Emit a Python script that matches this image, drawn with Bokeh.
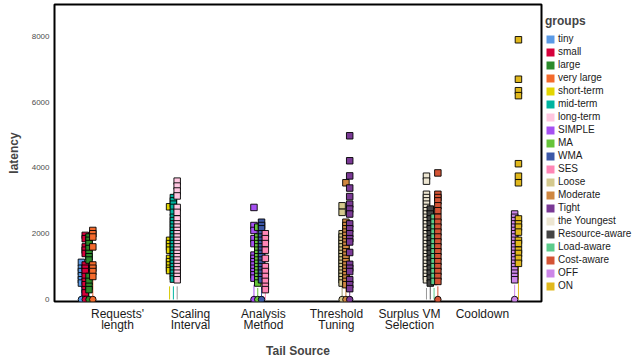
from bokeh.plotting import figure
from bokeh.models import Range1d, FixedTicker, Legend, LegendItem
from bokeh.embed import file_html
from bokeh.resources import INLINE

categories = ["Requests'\nlength", "Scaling\nInterval", "Analysis\nMethod",
              "Threshold\nTuning", "Surplus VM\nSelection", "Cooldown"]

groups = ["tiny", "small", "large", "very large", "short-term", "mid-term", "long-term",
          "SIMPLE", "MA", "WMA", "SES", "Loose", "Moderate", "Tight", "the Youngest",
          "Resource-aware", "Load-aware", "Cost-aware", "OFF", "ON"]
group_category = [0, 0, 0, 0, 1, 1, 1, 2, 2, 2, 2, 3, 3, 3, 4, 4, 4, 4, 5, 5]
colors = ["#5A9AE6", "#D6003B", "#2B8A2B", "#F46A2C", "#E3D500", "#00B4A0", "#FFC6E0",
          "#A650F2", "#66C43A", "#3C58A8", "#FF86B6", "#D4C98E", "#CF8740", "#7A3995",
          "#EDE6D2", "#444444", "#5BCB8B", "#D45435", "#CC86E8", "#E1B81C"]
whisker_colors = ["#5A9AE6", "#D6003B", "#2B8A2B", "#F46A2C", "#D6C800", "#00B4A0", "#999999",
                  "#A650F2", "#66C43A", "#3C58A8", "#FF86B6", "#A09A70", "#CF8740", "#7A3995",
                  "#999999", "#555555", "#5BCB8B", "#D45435", "#CC86E8", "#E1B81C"]
whisker_top = [450, 180, 280, 650, 400, 400, 400, 450, 350, 400, 260, 400, 350, 300,
               350, 700, 350, 400, 450, 1000]
zero_point = [1, 1, 1, 1, 0, 0, 0, 1, 1, 1, 0, 1, 1, 1, 0, 0, 0, 1, 1, 0]

tiny = [1130, 950, 850, 720, 600, 500]
small = [1950, 1850, 1600, 1500, 1400, 1050, 950, 850, 700, 550, 450, 300, 200]
large = [1900, 1800, 1700, 1550, 1400, 1300, 1200, 700, 550, 400, 300]
very_large = [2100, 2000, 1900, 1600, 1050, 950, 850, 700]
short_term = [2820, 1800, 1700, 1600, 1500, 1250, 1150, 1050, 950, 880]
mid_term = [3100, 3000, 2900, 2800, 2650, 2500, 2400, 2300, 2200, 2100, 2000, 1900, 1800,
            1700, 1600, 1500, 1400, 1300, 1200, 1100, 1000, 900, 800, 700, 620]
long_term = [3600, 3450, 3300, 3150, 2800, 2650, 2450, 2300, 2200, 2100, 2000, 1900, 1800,
             1700, 1600, 1500, 1400, 1300, 1200, 1100, 1000, 900, 800, 700, 600]
simple = [2800, 2250, 2100, 1850, 1700, 1350, 1250, 1150, 1050, 950, 850, 750, 650]
ma = [2200, 1900, 1800, 1700, 1600, 1500, 1400, 1300, 1200, 1100, 1000, 900, 800, 700,
      600, 500]
wma = [2350, 2250, 2150, 2000, 1900, 1800, 1700, 1600, 1500, 1400, 1300, 1200, 1100, 1000,
       900, 800, 700, 600]
ses = [2000, 1850, 1700, 1500, 1250, 1000, 850, 700, 550, 400, 300]
loose = [2850, 2650, 2000, 1900, 1800, 1700, 1600, 1500, 1400, 1300, 1200, 1100, 1000, 900,
         800, 700, 600, 500]
moderate = [3550, 2350, 2250, 2150, 2050, 1950, 1850, 1750, 1650, 1550, 1450, 1350, 1250,
            1150, 1050, 950, 850, 750, 650, 550, 450]
tight = [4980, 4220, 3760, 3390, 3130, 2900, 2750, 2600, 2300, 2150, 2000, 1850, 1750, 1430,
         1070, 950, 850, 600, 450, 330]
youngest = [3750, 3600, 3200, 3100, 3000, 2900, 2800, 2700, 2600, 2500, 2400, 2300, 2200,
            2100, 2000, 1900, 1800, 1700, 1600, 1500, 1400, 1300, 1200, 1100, 1000, 900,
            800, 700, 600]
resource_aware = [2750, 2600, 2450, 2300, 2150, 2000, 1850, 1700, 1550, 1400, 1250, 1100,
                  950, 800, 650, 500]
load_aware = [2500, 2350, 2200, 2050, 1900, 1750, 1600, 1450, 1300, 1150, 1000, 850, 700, 550]
cost_aware = [3850, 3200, 3100, 3000, 2850, 2700, 2500, 2350, 2200, 2050, 1900, 1750, 1600,
              1450, 1300, 1150, 1000, 850, 700, 550]
off = [2600, 2500, 2400, 2300, 2200, 2100, 2000, 1900, 1800, 1700, 1600, 1500, 1400, 1300,
       1200, 1100, 1000, 900, 800, 700, 600]
on = [7900, 6700, 6350, 6200, 4130, 3750, 3550, 2450, 2300, 2200, 2050, 1800, 1700, 1500,
      1400, 1250, 1100]

group_values = [tiny, small, large, very_large, short_term, mid_term, long_term, simple, ma,
                wma, ses, loose, moderate, tight, youngest, resource_aware, load_aware,
                cost_aware, off, on]

yticks = [0, 2000, 4000, 6000, 8000]

FONT = "Liberation Sans"
dodge = 0.052
NAN = float("nan")

p = figure(frame_width=487, frame_height=297, output_backend="svg", toolbar_location=None,
           x_range=Range1d(-0.863, 5.81), y_range=Range1d(-61, 8973),
           min_border_left=54, min_border_right=90, min_border_top=4, min_border_bottom=0)
p.background_fill_color = "white"
p.border_fill_color = "white"
p.outline_line_color = "black"
p.outline_line_width = 2
p.xgrid.visible = False
p.ygrid.visible = False

gx = [group_category[i] + (i - 9.5) * dodge for i in range(len(groups))]

# whiskers
p.segment(x0=gx, y0=[0] * len(gx), x1=gx, y1=whisker_top, line_color=whisker_colors,
          line_width=1)

# outliers
for i, g in enumerate(groups):
    xs = [gx[i]] * len(group_values[i])
    p.scatter(xs, group_values[i], marker="square", size=6.5, fill_color=colors[i],
              line_color="black", line_width=0.9)

# points at zero
zx = [gx[i] for i in range(len(groups)) if zero_point[i]]
zc = [colors[i] for i in range(len(groups)) if zero_point[i]]
p.scatter(zx, [0] * len(zx), marker="circle", size=6.5, fill_color=zc, line_color="black",
          line_width=0.9)

# legend (swatch proxies that draw nothing in the plot)
items = []
for i, g in enumerate(groups):
    r = p.quad(left=[gx[i]], right=[gx[i]], top=[NAN], bottom=[NAN], fill_color=colors[i],
               line_color=None)
    items.append(LegendItem(label=g, renderers=[r]))
legend = Legend(items=items, location=(4, 10), title="groups",
                title_text_font=FONT, title_text_font_style="bold", title_text_font_size="12px",
                label_text_font=FONT, label_text_font_size="10px", label_text_color="#1a1a1a",
                glyph_width=10, glyph_height=10, label_height=11, spacing=2,
                label_standoff=3, padding=0, margin=0, border_line_color=None,
                background_fill_alpha=0, title_standoff=5)
p.add_layout(legend, "right")

# axes
p.xaxis.ticker = FixedTicker(ticks=list(range(len(categories))))
p.xaxis.major_label_overrides = {i: c for i, c in enumerate(categories)}
p.xaxis.major_tick_line_color = None
p.xaxis.major_tick_out = 0
p.xaxis.major_tick_in = 0
p.xaxis.minor_tick_line_color = None
p.xaxis.axis_line_color = None
p.xaxis.major_label_text_font = FONT
p.xaxis.major_label_text_font_size = "12px"
p.xaxis.major_label_text_color = "#1a1a1a"
p.xaxis.major_label_text_line_height = 0.85
p.xaxis.major_label_standoff = 5
p.xaxis.axis_label = "Tail Source"
p.xaxis.axis_label_text_font = FONT
p.xaxis.axis_label_text_font_size = "12px"
p.xaxis.axis_label_text_font_style = "bold"
p.xaxis.axis_label_standoff = 9

p.yaxis.ticker = FixedTicker(ticks=yticks)
p.yaxis.major_tick_line_color = None
p.yaxis.major_tick_out = 0
p.yaxis.major_tick_in = 0
p.yaxis.minor_tick_line_color = None
p.yaxis.axis_line_color = None
p.yaxis.major_label_text_font = FONT
p.yaxis.major_label_text_font_size = "8px"
p.yaxis.major_label_text_color = "#4d4d4d"
p.yaxis.major_label_standoff = 5
p.yaxis.axis_label = "latency"
p.yaxis.axis_label_text_font = FONT
p.yaxis.axis_label_text_font_size = "12px"
p.yaxis.axis_label_text_font_style = "bold"
p.yaxis.axis_label_standoff = 8

open("out.html", "w").write(file_html(p, INLINE))
